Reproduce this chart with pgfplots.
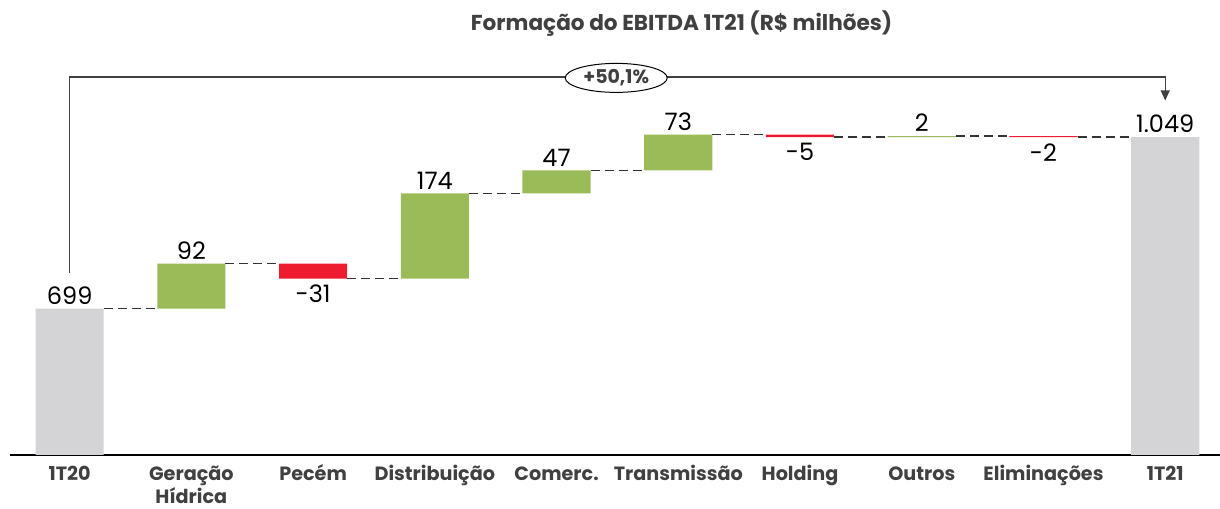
\documentclass[border=0pt]{standalone}
\usepackage{fontspec}
\setmainfont{Poppins}
\usepackage{pgfplots}
\pgfplotsset{compat=1.18}
\usetikzlibrary{shapes.geometric,arrows.meta}
\definecolor{cgreen}{HTML}{9BBB59}
\definecolor{cred}{HTML}{ED1C2E}
\definecolor{cgray}{HTML}{D4D4D6}
\definecolor{ctext}{HTML}{404040}
\newcommand\st{\rule{0pt}{9.5pt}}

\pgfplotsset{wf/.style={scale only axis, width=605pt, height=195.9pt,
  xmin=-0.49, xmax=9.45, ymin=400, ymax=1200}}

\begin{document}
\begin{tikzpicture}
% bars (floating waterfall via invisible base)
\begin{axis}[wf, ybar stacked, bar width=0.56,
  axis y line=none, axis x line=bottom,
  axis line style={-, black, line width=0.8pt},
  ytick=\empty, xtick={0,...,9}, xtick style={draw=none},
  xticklabels={\st 1T20,{\st Geração\\Hídrica},\st Pecém,\st Distribuição,\st Comerc.,\st Transmissão,\st Holding,\st Outros,\st Eliminações,\st 1T21},
  xticklabel style={align=center, anchor=north, text=ctext, font=\bfseries\fontsize{9.6}{9.8}\selectfont, yshift=2.5pt},
  title={Formação do EBITDA 1T21 (R\$ milhões)},
  title style={at={(0.555,1)}, anchor=center, yshift=14pt, text=ctext,
    font=\bfseries\fontsize{10.8}{13}\selectfont},
]
\addplot[draw=none, fill=none] coordinates {(0,0) (1,699) (2,760) (3,760) (4,934) (5,981) (6,1049) (7,1049) (8,1049) (9,0)};
\addplot[draw=none, fill=cgray] coordinates {(0,699) (1,0) (2,0) (3,0) (4,0) (5,0) (6,0) (7,0) (8,0) (9,1049)};
\addplot[draw=none, fill=cgreen] coordinates {(0,0) (1,92) (2,0) (3,174) (4,47) (5,73) (6,0) (7,2) (8,0) (9,0)};
\addplot[draw=none, fill=cred] coordinates {(0,0) (1,0) (2,31) (3,0) (4,0) (5,0) (6,5) (7,0) (8,2) (9,0)};
\coordinate (bl) at (rel axis cs:0,0);
\coordinate (tr) at (rel axis cs:1,1);
\end{axis}
% connectors, labels, bracket
\begin{axis}[wf, axis lines=none, clip=false]
\addplot[black!80, line width=0.8pt, dash pattern=on 4.5pt off 2.5pt, unbounded coords=jump] coordinates {
  (0.28,699) (0.72,699) (0.72,nan)
  (1.28,791) (1.72,791) (1.72,nan)
  (2.28,760) (2.72,760) (2.72,nan)
  (3.28,934) (3.72,934) (3.72,nan)
  (4.28,981) (4.72,981) (4.72,nan)
  (5.28,1054) (5.72,1054) (5.72,nan)
  (6.28,1049) (6.72,1049) (6.72,nan)
  (7.28,1051) (7.72,1051) (7.72,nan)
  (8.28,1049) (8.72,1049)};
\addplot[draw=none, nodes near coords, point meta=explicit symbolic,
  nodes near coords style={anchor=south, text=black, font=\fontsize{12}{13}\selectfont, inner sep=2pt}]
  coordinates {(0,699)[699] (1,791)[92] (3,934)[174] (4,981)[47] (5,1054)[73] (7,1051)[2] (9,1049)[1.049]};
\addplot[draw=none, nodes near coords, point meta=explicit symbolic,
  nodes near coords style={anchor=north, text=black, font=\fontsize{12}{13}\selectfont, inner sep=3pt}]
  coordinates {(2,760)[-31] (6,1049)[-5] (8,1049)[-2]};
\addplot[black!75, line width=0.6pt, -{Triangle[length=5pt,width=4.5pt]}]
  coordinates {(0,772) (0,1172) (9,1172) (9,1124)};
\node[ellipse, draw=black, line width=0.5pt, fill=white, minimum width=51pt, minimum height=14.5pt, inner sep=0pt,
  font=\bfseries\fontsize{9.5}{10}\selectfont, text=ctext] at (axis cs:4.49,1170) {+50,1\%};
\end{axis}
\pgfresetboundingbox
\path ([shift={(-5pt,-27pt)}]bl) rectangle ([shift={(0pt,31.6pt)}]tr);
\end{tikzpicture}
\end{document}
